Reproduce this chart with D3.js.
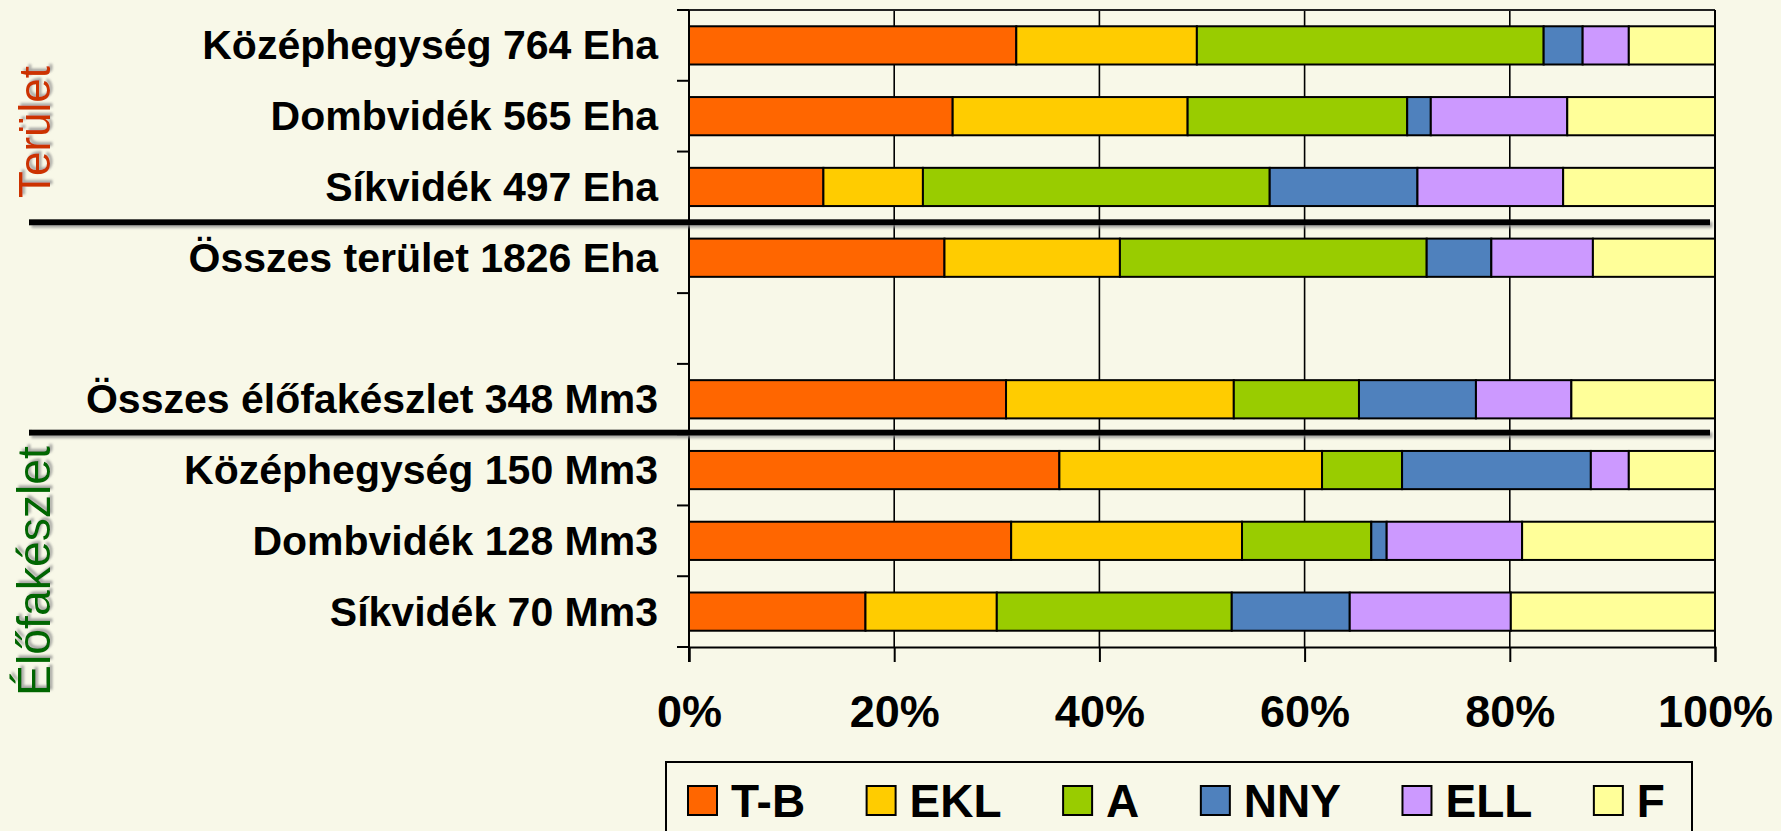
<!DOCTYPE html>
<html>
<head>
<meta charset="utf-8">
<script src="https://cdn.jsdelivr.net/npm/d3@7"></script>
<style>
  html, body { margin: 0; padding: 0; background: #F8F8E8; }
  svg { display: block; }
  text { font-family: "Liberation Sans", Arial, sans-serif; }
</style>
</head>
<body>
<svg id="chart" width="1781" height="831"></svg>
<script>
// ---- data ----
const categories = [
  "Középhegység 764 Eha",
  "Dombvidék 565 Eha",
  "Síkvidék 497 Eha",
  "Összes terület 1826 Eha",
  "",
  "Összes élőfakészlet 348 Mm3",
  "Középhegység 150 Mm3",
  "Dombvidék 128 Mm3",
  "Síkvidék 70 Mm3"
];
const seriesNames = ["T-B", "EKL", "A", "NNY", "ELL", "F"];
const seriesColors = ["#FF6600", "#FFCC00", "#99CC00", "#4F81BD", "#CC99FF", "#FFFF99"];
const valuesTB  = [31.9, 25.7, 13.1, 24.9, 0, 30.9, 36.1, 31.4, 17.2];
const valuesEKL = [17.6, 22.9,  9.7, 17.1, 0, 22.2, 25.6, 22.5, 12.8];
const valuesA   = [33.8, 21.4, 33.8, 29.9, 0, 12.2,  7.8, 12.6, 22.9];
const valuesNNY = [ 3.8,  2.3, 14.4,  6.3, 0, 11.4, 18.4,  1.5, 11.5];
const valuesELL = [ 4.5, 13.3, 14.2,  9.9, 0,  9.3,  3.7, 13.2, 15.7];
const valuesF   = [ 8.4, 14.4, 14.8, 11.9, 0, 14.0,  8.4, 18.8, 19.9];
const xTicks = [0, 20, 40, 60, 80, 100];
const xTickLabels = ["0%", "20%", "40%", "60%", "80%", "100%"];
const groupLabels = ["Terület", "Élőfakészlet"];

// ---- build table ----
const seriesValues = [valuesTB, valuesEKL, valuesA, valuesNNY, valuesELL, valuesF];
const table = categories.map((c, i) => {
  const row = { cat: c };
  seriesNames.forEach((s, j) => row[s] = seriesValues[j][i]);
  return row;
});
const stacked = d3.stack().keys(seriesNames)(table);

// ---- layout ----
const svg = d3.select("#chart");
const plot = { left: 689, right: 1715, top: 10, bottom: 647 };
const x = d3.scaleLinear().domain([0, 100]).range([plot.left, plot.right]);
const y = d3.scaleBand().domain(categories).range([plot.top, plot.bottom])
  .paddingInner(0.46).paddingOuter(0.23);

const defs = svg.append("defs");
const fText = defs.append("filter").attr("id", "shadowText")
  .attr("x", "-20%").attr("y", "-30%").attr("width", "140%").attr("height", "160%");
fText.append("feDropShadow").attr("dx", 2.5).attr("dy", 2.5).attr("stdDeviation", 1.2)
  .attr("flood-color", "#888").attr("flood-opacity", 0.7);
const fLine = defs.append("filter").attr("id", "shadowLine")
  .attr("x", "-5%").attr("y", "-200%").attr("width", "110%").attr("height", "500%");
fLine.append("feDropShadow").attr("dx", 2.5).attr("dy", 2.5).attr("stdDeviation", 1.2)
  .attr("flood-color", "#888").attr("flood-opacity", 0.7);

// background
svg.append("rect").attr("width", 1781).attr("height", 831).attr("fill", "#F8F8E8");

// gridlines
svg.append("g").selectAll("line").data(xTicks.slice(1, -1)).join("line")
  .attr("x1", d => x(d)).attr("x2", d => x(d))
  .attr("y1", plot.top).attr("y2", plot.bottom)
  .attr("stroke", "#000").attr("stroke-width", 1.6);

// bars
svg.append("g").selectAll("g").data(stacked).join("g")
  .attr("fill", (d, i) => seriesColors[i])
  .selectAll("rect").data(d => d.filter(p => p[1] - p[0] > 0)).join("rect")
  .attr("x", d => x(d[0]))
  .attr("y", d => y(d.data.cat))
  .attr("width", d => x(d[1]) - x(d[0]))
  .attr("height", y.bandwidth())
  .attr("stroke", "#000").attr("stroke-width", 2);

// plot border top/right
svg.append("line").attr("x1", plot.left).attr("x2", plot.right)
  .attr("y1", plot.top).attr("y2", plot.top).attr("stroke", "#222").attr("stroke-width", 2);
svg.append("line").attr("x1", plot.right).attr("x2", plot.right)
  .attr("y1", plot.top).attr("y2", plot.bottom).attr("stroke", "#000").attr("stroke-width", 2);

// bottom axis
const xAxis = d3.axisBottom(x).tickValues(xTicks)
  .tickFormat((d, i) => xTickLabels[i]).tickSize(15).tickPadding(33);
const gx = svg.append("g").attr("transform", `translate(0,${plot.bottom})`).call(xAxis);
gx.select(".domain").attr("stroke", "#000").attr("stroke-width", 2);
gx.selectAll(".tick line").attr("stroke", "#000").attr("stroke-width", 2);
gx.selectAll(".tick text")
  .attr("font-family", "'Liberation Sans', Arial, sans-serif")
  .attr("font-size", 45).attr("font-weight", "bold").attr("fill", "#000");

// left axis: line + ticks at band boundaries
const step = y.step();
const boundaries = d3.range(categories.length + 1).map(i => plot.top + i * step);
svg.append("line").attr("x1", plot.left).attr("x2", plot.left)
  .attr("y1", plot.top).attr("y2", plot.bottom + 15)
  .attr("stroke", "#000").attr("stroke-width", 2);
svg.append("g").selectAll("line").data(boundaries).join("line")
  .attr("x1", plot.left - 12).attr("x2", plot.left)
  .attr("y1", d => d).attr("y2", d => d)
  .attr("stroke", "#000").attr("stroke-width", 2);

// category labels
svg.append("g").selectAll("text").data(categories.filter(c => c !== "")).join("text")
  .attr("x", 658)
  .attr("y", d => y(d) + y.bandwidth() / 2)
  .attr("dy", "0.34em")
  .attr("text-anchor", "end")
  .attr("font-size", 41).attr("font-weight", "bold").attr("fill", "#000")
  .text(d => d);

// separators
const gapHalf = (step - y.bandwidth()) / 2;
const sepY = [y(categories[3]) - gapHalf, y(categories[6]) - gapHalf - 2];
svg.append("g").selectAll("rect").data(sepY).join("rect")
  .attr("x", 29).attr("width", 1681)
  .attr("y", d => d - 3).attr("height", 6)
  .attr("fill", "#000")
  .attr("filter", "url(#shadowLine)");

// group labels (vertical)
const groupPos = [
  { cy: 132, base: 50, len: 132, color: "#CC3300" },
  { cy: 571, base: 50, len: 250, color: "#006600" }
];
const gl = svg.append("g").selectAll("text").data(groupLabels).join("text")
  .attr("transform", (d, i) => `translate(${groupPos[i].base},${groupPos[i].cy}) rotate(-90)`)
  .attr("text-anchor", "middle")
  .attr("font-size", 40)
  .attr("fill", (d, i) => groupPos[i].color)
  .attr("filter", "url(#shadowText)")
  .text(d => d);
gl.each(function(d, i) {
  const w = this.getComputedTextLength();
  if (w > 0) d3.select(this).attr("font-size", 40 * groupPos[i].len / w);
});

// legend
const lg = svg.append("g");
lg.append("rect").attr("x", 666).attr("y", 762).attr("width", 1026).attr("height", 120)
  .attr("fill", "#F8F8E8").attr("stroke", "#000").attr("stroke-width", 2);
let lx = 688;
seriesNames.forEach((s, i) => {
  lg.append("rect").attr("x", lx).attr("y", 786).attr("width", 29).attr("height", 29)
    .attr("fill", seriesColors[i]).attr("stroke", "#000").attr("stroke-width", 2);
  const t = lg.append("text").attr("x", lx + 43).attr("y", 817)
    .attr("font-size", 46).attr("font-weight", "bold").attr("fill", "#000").text(s);
  lx = lx + 43 + t.node().getComputedTextLength() + 61.5;
});
</script>
</body>
</html>
